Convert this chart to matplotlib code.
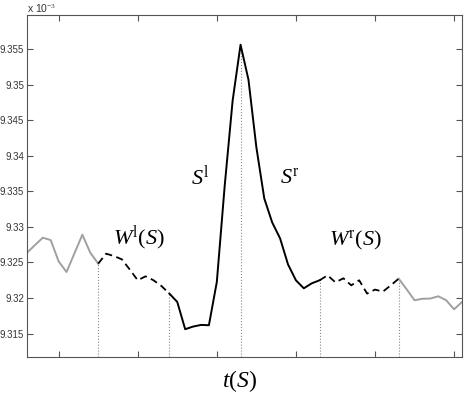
import numpy as np
import matplotlib
matplotlib.use('Agg')
import matplotlib.pyplot as plt

plt.rcParams['font.family'] = 'Liberation Sans'
plt.rcParams['mathtext.fontset'] = 'custom'
plt.rcParams['mathtext.it'] = 'Liberation Serif:italic'
plt.rcParams['mathtext.rm'] = 'Liberation Serif'

# values in units of 1e-3
x_left_gray = [6, 7, 8, 9, 10, 11, 12, 13, 14, 15]
y_left_gray = [9.32637, 9.32743, 9.32848, 9.32814, 9.32515, 9.32365, 9.32628, 9.3289, 9.32637, 9.32483]

x_wl = [15, 16, 17, 18, 19, 20, 21, 22, 23, 24]
y_wl = [9.32483, 9.32623, 9.3259, 9.32543, 9.32399, 9.32249, 9.32305, 9.32249, 9.32168, 9.32062]

x_s = [24, 25, 26, 27, 28, 29, 30, 31, 32, 33, 34, 35, 36, 37, 38, 39, 40, 41, 42, 43]
y_s = [9.32062, 9.31944, 9.31561, 9.31598, 9.31621, 9.31617, 9.32225, 9.33582, 9.34776, 9.35562,
       9.35071, 9.3412, 9.3340, 9.33063, 9.32838, 9.32473, 9.32249, 9.32136, 9.32206, 9.32249]

x_wr = [43, 44, 45, 46, 47, 48, 49, 50, 51, 52, 53]
y_wr = [9.32249, 9.32319, 9.3222, 9.32277, 9.32178, 9.32249, 9.32062, 9.32118, 9.3209, 9.32178, 9.32272]

x_right_gray = [53, 54, 55, 56, 57, 58, 59, 60, 61]
y_right_gray = [9.32272, 9.32122, 9.31968, 9.31989, 9.31992, 9.32024, 9.31968, 9.31841, 9.31944]

marks_x = [15, 24, 33, 43, 53]
marks_y = [9.32483, 9.32062, 9.35562, 9.32249, 9.32272]

yticks = [9.315, 9.32, 9.325, 9.33, 9.335, 9.34, 9.345, 9.35, 9.355]
ytick_labels = ['9.315', '9.32', '9.325', '9.33', '9.335', '9.34', '9.345', '9.35', '9.355']
xticks = [10, 20, 30, 40, 50, 60]

fig = plt.figure(figsize=(4.66, 3.94), dpi=100)
ax = fig.add_axes([27 / 466, 37 / 394, 435 / 466, 342 / 394])

ylo, yhi = 9.3117, 9.3598
for xm, ym in zip(marks_x, marks_y):
    ax.plot([xm, xm], [ylo, ym], color='#888888', linestyle=':', linewidth=0.8)

ax.plot(x_left_gray, y_left_gray, color='#a0a0a0', linewidth=1.4)
ax.plot(x_right_gray, y_right_gray, color='#a0a0a0', linewidth=1.4)
ax.plot(x_wl, y_wl, color='black', linewidth=1.3, linestyle=(0, (4, 2.5)))
ax.plot(x_wr, y_wr, color='black', linewidth=1.3, linestyle=(0, (4, 2.5)))
ax.plot(x_s, y_s, color='black', linewidth=1.4)

ax.set_xlim(6, 61)
ax.set_ylim(ylo, yhi)
ax.set_xticks(xticks)
ax.set_xticklabels([])
ax.set_yticks(yticks)
ax.set_yticklabels(ytick_labels)
ax.tick_params(direction='in', length=4, width=0.8, color='#555555',
               top=True, right=True, labelsize=7, labelcolor='#333333', pad=2)
for sp in ax.spines.values():
    sp.set_color('#555555')
    sp.set_linewidth(0.8)

fs = 16
ax.text(27.85, 9.33695, r'$S^{\mathrm{l}}$', fontsize=fs, ha='center', va='center')
ax.text(39.2, 9.33695, r'$S^{\mathrm{r}}$', fontsize=fs, ha='center', va='center')
ax.text(20.1, 9.32838, r'$W^{\mathrm{l}}(S)$', fontsize=fs, ha='center', va='center')
ax.text(47.5, 9.3281, r'$W^{\mathrm{r}}(S)$', fontsize=fs, ha='center', va='center')

fig.text(27 / 466, 1 - 9 / 394, r'x 10$^{-3}$', fontsize=7.5, color='#333333',
         ha='left', va='center')
fig.text(240 / 466, 1 - 381 / 394, r'$t(S)$', fontsize=17, ha='center', va='center')

fig.savefig('out.png', dpi=100)
